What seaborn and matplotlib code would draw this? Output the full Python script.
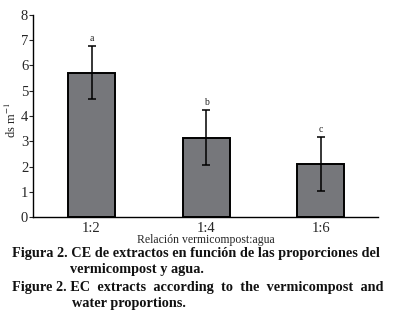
import pandas as pd
import matplotlib
matplotlib.use('Agg')
import matplotlib.pyplot as plt
import seaborn as sns

# --- DATA ---
ratios = ['1:2', '1:4', '1:6']
ce_mean = [5.72, 3.15, 2.10]
ce_sd = [1.05, 1.08, 1.07]
letters = ['a', 'b', 'c']

df = pd.DataFrame({'ratio': ratios, 'ce': ce_mean, 'sd': ce_sd})

sns.set_style('white')
plt.rcParams['font.family'] = ['Liberation Serif', 'DejaVu Serif']
plt.rcParams['mathtext.fontset'] = 'stix'

fig = plt.figure(figsize=(3.94, 3.25), dpi=100)
ax = fig.add_axes([0.084, 0.332, 0.875, 0.622])

sns.barplot(data=df, x='ratio', y='ce', color='#76777b', saturation=1,
            width=0.41, edgecolor='black', linewidth=1.4, ax=ax)
ax.errorbar(range(len(ratios)), df['ce'], yerr=df['sd'], fmt='none',
            ecolor='black', elinewidth=1.1, capsize=3, capthick=1.1)

# significance letters above the error bars
for i, row in df.iterrows():
    ax.text(i, row['ce'] + row['sd'] + 0.12, letters[i], ha='center', va='bottom',
            fontsize=7, color='#222222')

ax.set_ylim(0, 8)
ax.set_xlim(-0.51, 2.5)
ax.set_yticks(range(0, 9))
sns.despine(ax=ax)
for s in ['left', 'bottom']:
    ax.spines[s].set_color('black')
    ax.spines[s].set_linewidth(1.0)
ax.tick_params(axis='y', left=True, length=3, width=0.8, labelsize=10.5, pad=0.5)
ax.tick_params(axis='x', bottom=False, labelsize=10.5, pad=0)
ax.set_ylabel('ds m$^{-1}$', fontsize=9)
ax.yaxis.set_label_coords(-0.04, 0.48)
ax.set_xlabel('Relación vermicompost:agua', fontsize=8.5, labelpad=-1)

# --- CAPTION ---
cap = dict(fontsize=10.3, fontweight='bold', color='#111111', ha='left', va='center')
fig.text(0.031, 1 - 253 / 325, 'Figura 2. CE de extractos en función de las proporciones del', **cap)
fig.text(0.178, 1 - 269 / 325, 'vermicompost y agua.', **cap)
fig.text(0.031, 1 - 287 / 325, 'Figure 2. EC  extracts  according  to  the  vermicompost  and', **cap)
fig.text(0.183, 1 - 303 / 325, 'water proportions.', **cap)

plt.savefig('out.png', dpi=100)
